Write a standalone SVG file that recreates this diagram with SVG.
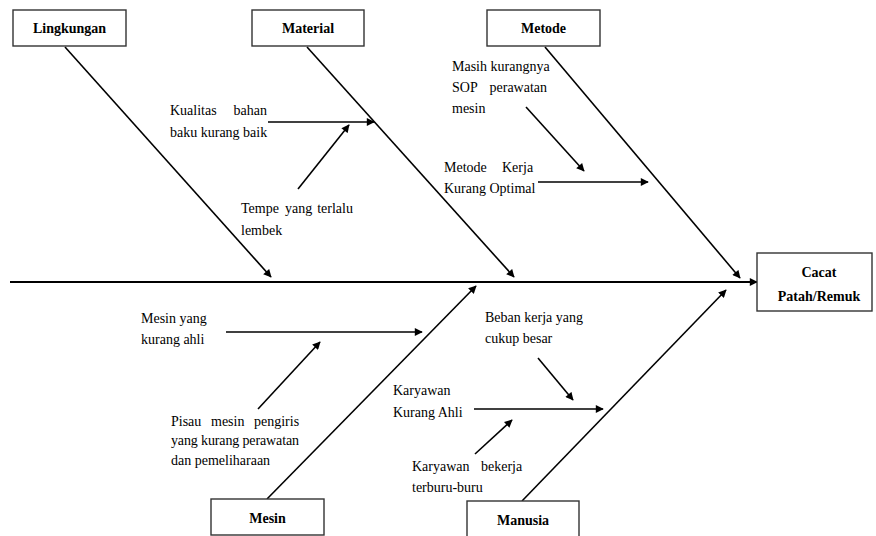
<svg xmlns="http://www.w3.org/2000/svg" width="876" height="536" viewBox="0 0 876 536">
  <defs>
    <marker id="arrow" viewBox="0 0 10 10" refX="9" refY="5" markerWidth="9" markerHeight="8" markerUnits="userSpaceOnUse" orient="auto">
      <path d="M0,0 L10,5 L0,10 z" fill="#000"/>
    </marker>
    <style>
      .box { fill: #fff; stroke: #333; stroke-width: 1.4; }
      .head { font-family: "Liberation Serif", "Times New Roman", serif; font-size: 14px; font-weight: bold; text-anchor: middle; fill: #000; }
      .lbl { font-family: "Liberation Serif", "Times New Roman", serif; font-size: 14px; fill: #000; }
      .bone { stroke: #000; stroke-width: 1.6; fill: none; }
      .sub { stroke: #000; stroke-width: 1.6; fill: none; marker-end: url(#arrow); }
    </style>
  </defs>
  <rect width="876" height="536" fill="#fff"/>

  <!-- connectors: spine, main bones and cause arrows -->
  <g id="connectors">
    <line class="sub" x1="10" y1="282" x2="757" y2="282" style="stroke-width:2"/>
    <line class="sub" x1="65" y1="47" x2="271" y2="277"/>
    <line class="sub" x1="307" y1="47" x2="514" y2="277"/>
    <line class="sub" x1="545" y1="47" x2="740" y2="278"/>
    <line class="sub" x1="267" y1="499" x2="476" y2="286"/>
    <line class="sub" x1="522" y1="501" x2="726" y2="290"/>

    <line class="sub" x1="268" y1="122" x2="374" y2="122"/>
    <line class="sub" x1="298" y1="189" x2="349" y2="125"/>
    <line class="sub" x1="526" y1="107" x2="584" y2="171"/>
    <line class="sub" x1="538" y1="182" x2="648" y2="182"/>
    <line class="sub" x1="226" y1="332" x2="422" y2="332"/>
    <line class="sub" x1="258" y1="409" x2="320" y2="342"/>
    <line class="sub" x1="538" y1="358" x2="573" y2="400"/>
    <line class="sub" x1="474" y1="409" x2="603" y2="409"/>
    <line class="sub" x1="475" y1="454" x2="512" y2="420"/>
  </g>

  <g id="lingkungan">
    <rect class="box" x="13" y="10" width="113" height="36"/>
    <text class="head" x="69.5" y="33">Lingkungan</text>
  </g>
  <g id="material">
    <rect class="box" x="252" y="10" width="112" height="36"/>
    <text class="head" x="308" y="33">Material</text>
  </g>
  <g id="metode">
    <rect class="box" x="487" y="10" width="113" height="36"/>
    <text class="head" x="543.5" y="33">Metode</text>
  </g>
  <g id="mesin">
    <rect class="box" x="211" y="499" width="113" height="36"/>
    <text class="head" x="267.5" y="523">Mesin</text>
  </g>
  <g id="manusia">
    <rect class="box" x="467" y="501" width="112" height="40"/>
    <text class="head" x="523" y="525">Manusia</text>
  </g>
  <g id="cacat">
    <rect class="box" x="757" y="253" width="115" height="58"/>
    <text class="head" x="819" y="277">Cacat</text>
    <text class="head" x="819" y="301">Patah/Remuk</text>
  </g>

  <g id="kualitas">
    <text class="lbl" y="115"><tspan x="170">Kualitas</tspan><tspan x="233.6">bahan</tspan></text>
    <text class="lbl" x="170" y="137">baku kurang baik</text>
  </g>
  <g id="tempe">
    <text class="lbl" y="213"><tspan x="241">Tempe</tspan><tspan x="285">yang</tspan><tspan x="317.2">terlalu</tspan></text>
    <text class="lbl" x="241" y="235">lembek</text>
  </g>
  <g id="sop">
    <text class="lbl" x="452" y="71">Masih kurangnya</text>
    <text class="lbl" y="92"><tspan x="452">SOP</tspan><tspan x="489.5">perawatan</tspan></text>
    <text class="lbl" x="452" y="113">mesin</text>
  </g>
  <g id="metode-kerja">
    <text class="lbl" y="172"><tspan x="444">Metode</tspan><tspan x="502">Kerja</tspan></text>
    <text class="lbl" x="444" y="193">Kurang Optimal</text>
  </g>
  <g id="mesin-ahli">
    <text class="lbl" x="141" y="323">Mesin yang</text>
    <text class="lbl" x="141" y="344">kurang ahli</text>
  </g>
  <g id="pisau">
    <text class="lbl" y="426"><tspan x="171">Pisau</tspan><tspan x="211">mesin</tspan><tspan x="254">pengiris</tspan></text>
    <text class="lbl" x="171" y="445" textLength="128" lengthAdjust="spacing">yang kurang perawatan</text>
    <text class="lbl" x="171" y="465">dan pemeliharaan</text>
  </g>
  <g id="beban">
    <text class="lbl" x="485" y="322">Beban kerja yang</text>
    <text class="lbl" x="485" y="343">cukup besar</text>
  </g>
  <g id="karyawan-ahli">
    <text class="lbl" x="393" y="395">Karyawan</text>
    <text class="lbl" x="393" y="417">Kurang Ahli</text>
  </g>
  <g id="karyawan-buru">
    <text class="lbl" y="471"><tspan x="412">Karyawan</tspan><tspan x="481">bekerja</tspan></text>
    <text class="lbl" x="412" y="492">terburu-buru</text>
  </g>
</svg>
